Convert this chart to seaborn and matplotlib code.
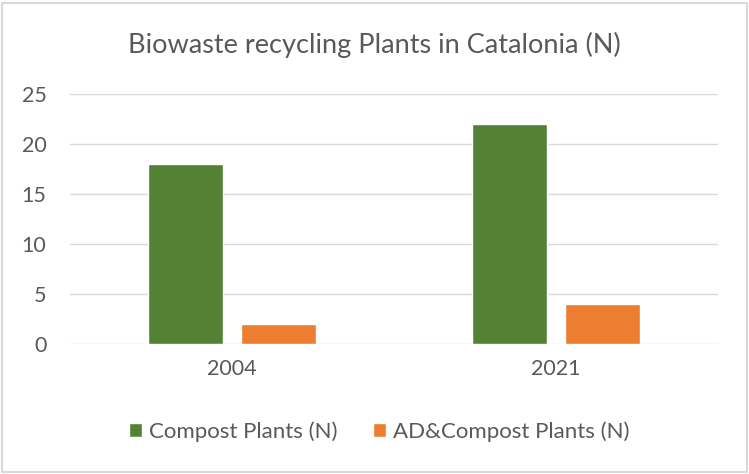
import pandas as pd
import matplotlib.pyplot as plt
import seaborn as sns
from matplotlib.patches import Rectangle

years = ["2004", "2021"]
series = ["Compost Plants (N)", "AD&Compost Plants (N)"]
compost = [18, 22]
ad_compost = [2, 4]
colors = ["#548235", "#ED7D31"]

df = pd.DataFrame({
    "year": years * 2,
    "series": [series[0]] * 2 + [series[1]] * 2,
    "value": compost + ad_compost,
})

sns.set_style("white")
plt.rcParams["font.family"] = ["Lato", "DejaVu Sans"]

fig = plt.figure(figsize=(7.49, 4.74), dpi=100)
ax = fig.add_axes([0.0935, 0.274, 0.865, 0.5274])

sns.barplot(data=df, x="year", y="value", hue="series", palette=colors,
            saturation=1, width=0.575, gap=0.2, ax=ax, legend=True)

ax.set_ylim(0, 25)
ax.set_yticks(range(0, 26, 5))
ax.set_xlim(-0.5, 1.5)
ax.yaxis.grid(True, color="#D9D9D9", lw=1)
ax.set_axisbelow(True)
for s in ax.spines.values():
    s.set_visible(False)
ax.tick_params(axis="both", length=0, labelsize=15.5, labelcolor="#595959")
ax.tick_params(axis="y", pad=17)
ax.tick_params(axis="x", pad=11)
ax.set_xlabel("")
ax.set_ylabel("")

ax.legend(loc="center", bbox_to_anchor=(0.477, -0.35), ncol=2, frameon=False,
          fontsize=16, labelcolor="#595959", handlelength=0.6, handleheight=0.6,
          handletextpad=0.3, columnspacing=1.6)

fig.suptitle("Biowaste recycling Plants in Catalonia (N)", y=0.905, va="center",
             fontsize=19.5, color="#595959")

fig.patches.append(Rectangle((0.003, 0.004), 0.994, 0.99, transform=fig.transFigure,
                             fill=False, edgecolor="#D9D9D9", lw=1.5))

fig.savefig("out.png", dpi=100)
